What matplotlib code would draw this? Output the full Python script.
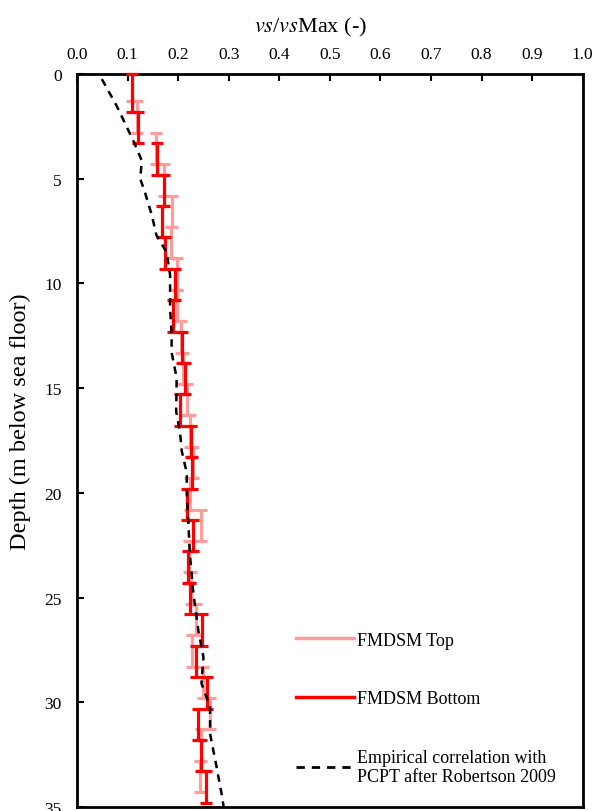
import matplotlib.pyplot as plt
import numpy as np
from matplotlib.lines import Line2D

plt.rcParams['font.family'] = ['Liberation Serif', 'DejaVu Serif']
plt.rcParams['mathtext.fontset'] = 'stix'

# FMDSM Top layers (depth from / to in m, normalised vs)
top_from = [0.0, 1.3, 2.8, 4.3, 5.8, 7.3, 8.8, 10.3, 11.8, 13.3, 14.8, 16.3,
            17.8, 19.3, 20.8, 22.3, 23.8, 25.3, 26.8, 28.3, 29.8, 31.3, 32.8]
top_to = [1.3, 2.8, 4.3, 5.8, 7.3, 8.8, 10.3, 11.8, 13.3, 14.8, 16.3, 17.8,
          19.3, 20.8, 22.3, 23.8, 25.3, 26.8, 28.3, 29.8, 31.3, 32.8, 34.3]
top_vs = [0.108, 0.118, 0.157, 0.172, 0.187, 0.185, 0.197, 0.198, 0.205, 0.210,
          0.217, 0.224, 0.230, 0.224, 0.246, 0.222, 0.225, 0.236, 0.228, 0.250,
          0.262, 0.246, 0.243]

# FMDSM Bottom layers
bot_from = [0.0, 1.8, 3.3, 4.8, 6.3, 7.8, 9.3, 10.8, 12.3, 13.8, 15.3, 16.8,
            18.3, 19.8, 21.3, 22.8, 24.3, 25.8, 27.3, 28.8, 30.3, 31.8, 33.3]
bot_to = [1.8, 3.3, 4.8, 6.3, 7.8, 9.3, 10.8, 12.3, 13.8, 15.3, 16.8, 18.3,
          19.8, 21.3, 22.8, 24.3, 25.8, 27.3, 28.8, 30.3, 31.8, 33.3, 34.8]
bot_vs = [0.109, 0.120, 0.159, 0.171, 0.168, 0.174, 0.194, 0.189, 0.207, 0.213,
          0.204, 0.225, 0.227, 0.217, 0.230, 0.220, 0.223, 0.247, 0.235, 0.256,
          0.240, 0.246, 0.255]

# empirical correlation (Robertson 2009)
emp_depth = [0.24, 1.5, 3.17, 4.13, 5.0, 5.63, 6.75, 7.7, 8.5, 9.6, 11.2, 12.46,
             13.3, 14.5, 16.1, 17.2, 18.0, 19.05, 20.0, 21.35, 22.9, 24.8, 26.6,
             27.86, 29.1, 30.2, 31.5, 33.1, 34.4, 35.0]
emp_vs = [0.049, 0.078, 0.111, 0.128, 0.125, 0.134, 0.148, 0.157, 0.177, 0.184,
          0.184, 0.187, 0.187, 0.197, 0.196, 0.204, 0.207, 0.217, 0.217, 0.220,
          0.223, 0.230, 0.240, 0.250, 0.246, 0.263, 0.263, 0.276, 0.286, 0.29]

pink = '#FF9C9C'
red = '#FF0000'

fig = plt.figure(figsize=(6.02, 8.12), dpi=100)
ax = fig.add_axes([0.128, 0.005, 0.840, 0.9025])

def layer_bars(d_from, d_to, vs, color, z):
    d_from = np.array(d_from)
    d_to = np.array(d_to)
    mid = (d_from + d_to) / 2
    half = (d_to - d_from) / 2
    ax.errorbar(vs, mid, yerr=half, fmt='none', ecolor=color, elinewidth=2.3,
                capsize=4.3, capthick=2.3, zorder=z, clip_on=False)

layer_bars(top_from, top_to, top_vs, pink, 2)
layer_bars(bot_from, bot_to, bot_vs, red, 3)
ax.plot(emp_vs, emp_depth, color='black', lw=1.8, dashes=(3, 2.5), zorder=4)

ax.set_xlim(0, 1.0)
ax.set_ylim(35, 0)
ax.set_xticks(np.arange(0, 1.01, 0.1))
ax.set_yticks(np.arange(0, 36, 5))
ax.xaxis.set_major_formatter(plt.FormatStrFormatter('%.1f'))
ax.xaxis.tick_top()
ax.xaxis.set_label_position('top')
ax.tick_params(direction='in', length=5, width=1.5, labelsize=12.5)
ax.tick_params(axis='x', pad=9)
ax.tick_params(axis='y', pad=11)
for s in ax.spines.values():
    s.set_linewidth(2.0)

ax.set_xlabel(r'$vs$/$vs$Max (-)', fontsize=16)
ax.xaxis.set_label_coords(0.462, 1.058)
ax.set_ylabel('Depth (m below sea floor)', fontsize=17.5)
ax.yaxis.set_label_coords(-0.091, 0.527)

handles = [Line2D([], [], color=pink, lw=2.5),
           Line2D([], [], color=red, lw=2.5),
           Line2D([], [], color='black', lw=2.0, dashes=(3, 2.5))]
labels = ['FMDSM Top', 'FMDSM Bottom',
          'Empirical correlation with\nPCPT after Robertson 2009']
fig.legend(handles, labels, loc='upper left', bbox_to_anchor=(0.492, 0.221),
           frameon=False, fontsize=13, handlelength=3.2, handletextpad=0.15,
           labelspacing=2.3, borderpad=0, borderaxespad=0)

fig.savefig('out.png', dpi=100)
